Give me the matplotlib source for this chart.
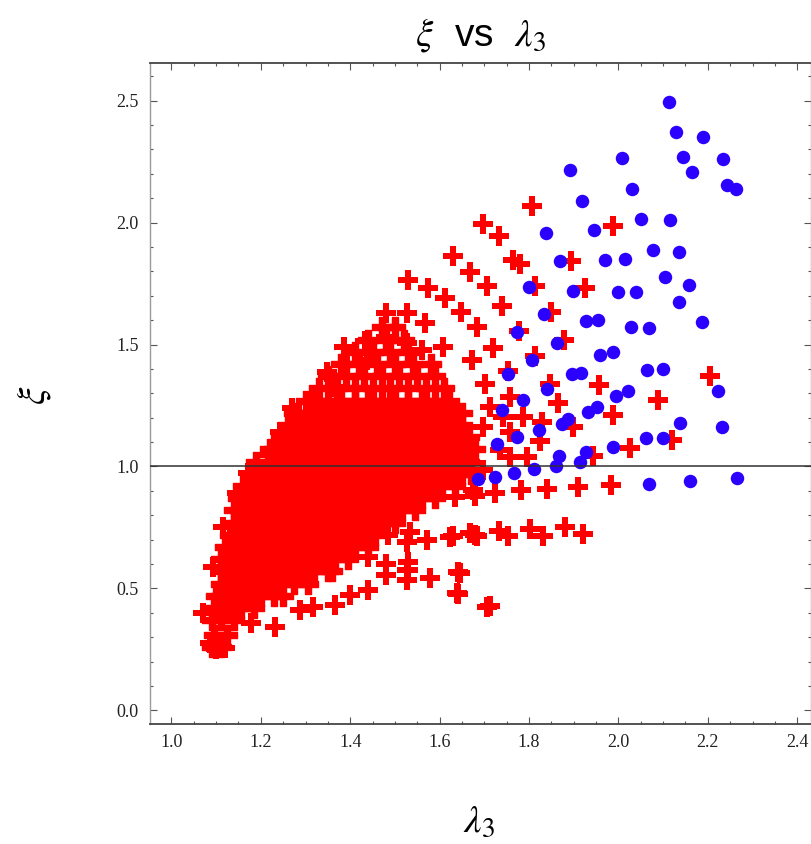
import matplotlib
matplotlib.use("Agg")
import matplotlib.pyplot as plt
from matplotlib.ticker import MultipleLocator, FormatStrFormatter

# ---------------- data ----------------
# blue points (lambda_3, xi)
blue_lam = [2.114, 2.128, 2.190, 2.008, 2.145, 2.233, 1.892, 2.164, 2.030, 2.243,
            2.262, 1.918, 2.051, 2.116, 1.838, 1.945, 2.077, 2.136, 1.869, 1.971,
            2.014, 2.104, 2.159, 1.800, 1.898, 1.998, 2.039, 2.136, 1.833, 1.928,
            1.955, 2.028, 2.068, 2.188, 1.774, 1.863, 1.959, 1.987, 1.806, 1.754,
            1.896, 1.916, 2.063, 2.100, 1.840, 1.994, 2.022, 2.222, 1.786, 1.740,
            1.931, 1.951, 1.874, 1.888, 2.138, 2.232, 1.822, 1.774, 1.729, 2.061,
            2.100, 1.988, 1.927, 1.867, 1.860, 1.913, 1.812, 1.767, 1.724, 1.686,
            2.068, 2.161, 2.265]
blue_xi = [2.493, 2.371, 2.352, 2.264, 2.270, 2.260, 2.214, 2.208, 2.139, 2.152,
           2.136, 2.089, 2.014, 2.011, 1.956, 1.971, 1.889, 1.879, 1.841, 1.846,
           1.850, 1.777, 1.742, 1.736, 1.721, 1.715, 1.715, 1.673, 1.625, 1.598,
           1.599, 1.572, 1.568, 1.591, 1.550, 1.507, 1.458, 1.470, 1.438, 1.380,
           1.378, 1.385, 1.395, 1.400, 1.317, 1.289, 1.311, 1.311, 1.273, 1.232,
           1.222, 1.242, 1.176, 1.195, 1.178, 1.163, 1.149, 1.120, 1.092, 1.116,
           1.116, 1.078, 1.058, 1.041, 1.002, 1.017, 0.991, 0.973, 0.958, 0.949,
           0.927, 0.939, 0.951]

# sparse red points (lambda_3, xi)
red_lam = [1.806, 1.696, 1.733, 1.988, 1.630, 1.669, 1.765, 1.780, 1.895, 1.706,
           1.814, 1.925, 1.530, 1.575, 1.612, 1.739, 1.849, 1.648, 1.526, 1.567,
           1.683, 1.777, 1.879, 1.526, 1.608, 1.720, 1.813, 1.560, 1.672, 1.753,
           1.956, 1.847, 1.701, 2.206, 2.089, 1.865, 1.787, 1.988, 1.899, 1.828,
           2.119, 2.025, 1.944, 1.824, 1.742, 1.983, 1.910, 1.841, 1.781, 1.724,
           1.679, 1.634, 1.921, 1.880, 1.832, 1.802, 1.753, 1.733, 1.683, 1.668,
           1.630, 1.623, 1.571, 1.526, 1.485, 1.645, 1.642, 1.713, 1.578, 1.526,
           1.481, 1.440, 1.399, 1.366, 1.317, 1.287, 1.232, 1.179, 1.086, 1.071,
           1.094, 1.116, 1.146, 1.481, 1.386, 1.434, 1.481, 1.349, 1.392, 1.437,
           1.317, 1.366, 1.269, 1.243, 1.220, 1.172, 1.153,
           1.757, 1.735, 1.795, 1.757, 1.697, 1.713, 1.757, 1.698, 1.675,
           1.530, 1.526, 1.578, 1.642, 1.638, 1.705, 1.440, 1.480, 1.530,
           1.534, 1.571, 1.623, 1.679, 1.100, 1.120]
red_xi = [2.068, 1.992, 1.945, 1.987, 1.863, 1.799, 1.846, 1.830, 1.843, 1.739,
          1.739, 1.731, 1.764, 1.730, 1.689, 1.656, 1.635, 1.635, 1.628, 1.587,
          1.572, 1.557, 1.519, 1.505, 1.491, 1.484, 1.453, 1.477, 1.435, 1.391,
          1.333, 1.340, 1.340, 1.371, 1.273, 1.261, 1.204, 1.211, 1.160, 1.182,
          1.109, 1.075, 1.045, 1.103, 1.204, 0.923, 0.916, 0.909, 0.902, 0.890,
          0.880, 0.873, 0.722, 0.750, 0.715, 0.743, 0.715, 0.736, 0.715, 0.729,
          0.715, 0.712, 0.699, 0.692, 0.719, 0.564, 0.477, 0.427, 0.542, 0.576,
          0.555, 0.494, 0.473, 0.432, 0.425, 0.412, 0.343, 0.357, 0.275, 0.398,
          0.589, 0.753, 0.890, 1.628, 1.491, 1.516, 1.530, 1.389, 1.416, 1.436,
          1.286, 1.327, 1.239, 1.143, 1.047, 0.972, 0.883,
          1.285, 1.068, 1.040, 1.143, 1.163, 1.245, 1.040, 0.986, 0.904,
          0.576, 0.535, 0.542, 0.569, 0.480, 0.425, 0.630, 0.600, 0.610,
          0.732, 0.699, 0.712, 0.719, 0.250, 0.255]

# dense red core: one xi value per row, lambda_3 values of that row
dense_xi = [0.26, 0.31, 0.37, 0.42, 0.47, 0.52, 0.57, 0.62, 0.67, 0.72, 0.77,
            0.82, 0.87, 0.92, 0.97, 1.02, 1.07, 1.12, 1.17, 1.22, 1.27, 1.32,
            1.37, 1.42, 1.47, 1.52, 1.57]
dense_lam = [
    [1.09, 1.11],
    [1.095, 1.125],
    [1.09, 1.11, 1.14],
    [1.095, 1.125, 1.155, 1.185],
    [1.10, 1.11, 1.14, 1.17, 1.20, 1.23, 1.25],
    [1.11, 1.125, 1.155, 1.185, 1.215, 1.245, 1.275, 1.305],
    [1.11, 1.14, 1.17, 1.20, 1.23, 1.26, 1.29, 1.32, 1.35, 1.36],
    [1.11, 1.125, 1.155, 1.185, 1.215, 1.245, 1.275, 1.305, 1.335, 1.365, 1.395],
    [1.12, 1.14, 1.17, 1.20, 1.23, 1.26, 1.29, 1.32, 1.35, 1.38, 1.41, 1.44],
    [1.13, 1.155, 1.185, 1.215, 1.245, 1.275, 1.305, 1.335, 1.365, 1.395, 1.425,
     1.455],
    [1.14, 1.17, 1.20, 1.23, 1.26, 1.29, 1.32, 1.35, 1.38, 1.41, 1.44, 1.47, 1.50],
    [1.14, 1.155, 1.185, 1.215, 1.245, 1.275, 1.305, 1.335, 1.365, 1.395, 1.425,
     1.455, 1.485, 1.515, 1.545],
    [1.15, 1.17, 1.20, 1.23, 1.26, 1.29, 1.32, 1.35, 1.38, 1.41, 1.44, 1.47, 1.50,
     1.53, 1.56, 1.59],
    [1.16, 1.185, 1.215, 1.245, 1.275, 1.305, 1.335, 1.365, 1.395, 1.425, 1.455,
     1.485, 1.515, 1.545, 1.575, 1.605, 1.635],
    [1.18, 1.20, 1.23, 1.26, 1.29, 1.32, 1.35, 1.38, 1.41, 1.44, 1.47, 1.50, 1.53,
     1.56, 1.59, 1.62, 1.65, 1.67],
    [1.19, 1.215, 1.245, 1.275, 1.305, 1.335, 1.365, 1.395, 1.425, 1.455, 1.485,
     1.515, 1.545, 1.575, 1.605, 1.635, 1.665],
    [1.22, 1.23, 1.26, 1.29, 1.32, 1.35, 1.38, 1.41, 1.44, 1.47, 1.50, 1.53, 1.56,
     1.59, 1.62, 1.65, 1.68],
    [1.245, 1.275, 1.305, 1.335, 1.365, 1.395, 1.425, 1.455, 1.485, 1.515, 1.545,
     1.575, 1.605, 1.635, 1.665],
    [1.26, 1.29, 1.32, 1.35, 1.38, 1.41, 1.44, 1.47, 1.50, 1.53, 1.56, 1.59, 1.62,
     1.65],
    [1.275, 1.305, 1.335, 1.365, 1.395, 1.425, 1.455, 1.485, 1.515, 1.545, 1.575,
     1.605, 1.635, 1.65],
    [1.30, 1.32, 1.35, 1.38, 1.41, 1.44, 1.47, 1.50, 1.53, 1.56, 1.59, 1.62],
    [1.33, 1.37, 1.41, 1.45, 1.49, 1.53, 1.57, 1.61],
    [1.35, 1.39, 1.43, 1.47, 1.51, 1.55, 1.59],
    [1.38, 1.42, 1.46, 1.50, 1.54, 1.58],
    [1.41, 1.45, 1.49, 1.53],
    [1.44, 1.48, 1.52],
    [1.47, 1.50],
]

x_ticks = [1.0, 1.2, 1.4, 1.6, 1.8, 2.0, 2.2, 2.4]
y_ticks = [0.0, 0.5, 1.0, 1.5, 2.0, 2.5]
ref_level = 1.0

# ---------------- figure ----------------
plt.rcParams['mathtext.fontset'] = 'stix'
W, H = 812, 844
fig = plt.figure(figsize=(W / 100, H / 100), dpi=100)
ax = fig.add_axes([150 / W, (H - 724.3) / H, (811.5 - 150) / W, (724.3 - 63.3) / H])

red = '#ff0000'
blue = '#2b00ff'

core_l, core_x = [], []
for xi_v, row in zip(dense_xi, dense_lam):
    for l in row:
        core_l.append(l)
        core_x.append(xi_v)

ax.scatter(core_l, core_x, marker='P', s=228, color=red, edgecolors=red,
           linewidths=1.0, zorder=2)
ax.scatter(red_lam, red_xi, marker='P', s=228, color=red, linewidths=0, zorder=2)
ax.scatter(blue_lam, blue_xi, marker='o', s=94, color=blue, linewidths=0, zorder=2.5)
ax.axhline(ref_level, color='#303030', lw=1.1, zorder=3)

ax.set_xlim(0.952, 2.432)
ax.set_ylim(-0.0566, 2.6525)

ax.set_xticks(x_ticks)
ax.set_yticks(y_ticks)
ax.xaxis.set_minor_locator(MultipleLocator(0.05))
ax.yaxis.set_minor_locator(MultipleLocator(0.1))
ax.xaxis.set_major_formatter(FormatStrFormatter('%.1f'))
ax.yaxis.set_major_formatter(FormatStrFormatter('%.1f'))
ax.tick_params(which='both', direction='in', top=True, right=True,
               color='#555555', width=0.8)
ax.tick_params(which='major', length=5, labelsize=13, labelcolor='#222222')
ax.tick_params(which='minor', length=2.5)
ax.tick_params(axis='x', which='major', pad=7)
ax.tick_params(axis='y', which='major', pad=8)
for lab in ax.get_xticklabels() + ax.get_yticklabels():
    lab.set_fontfamily('Liberation Serif')

for side in ['left', 'right']:
    ax.spines[side].set_color('#9a9a9a')
    ax.spines[side].set_linewidth(1.0)
for side in ['top', 'bottom']:
    ax.spines[side].set_color('#444444')
    ax.spines[side].set_linewidth(1.3)

ax.set_xlabel(r'$\lambda_3$', fontsize=28, va='center')
ax.xaxis.set_label_coords(0.497, -0.146)
ax.set_ylabel(r'$\xi$', fontsize=28, va='center', rotation=90)
ax.yaxis.set_label_coords(-0.175, 0.497)

ax.text(0.5, 1.043, r'$\xi$  vs  $\lambda_3$', transform=ax.transAxes,
        ha='center', va='center', fontsize=28, family='Liberation Sans')

fig.savefig('out.png', dpi=100)
